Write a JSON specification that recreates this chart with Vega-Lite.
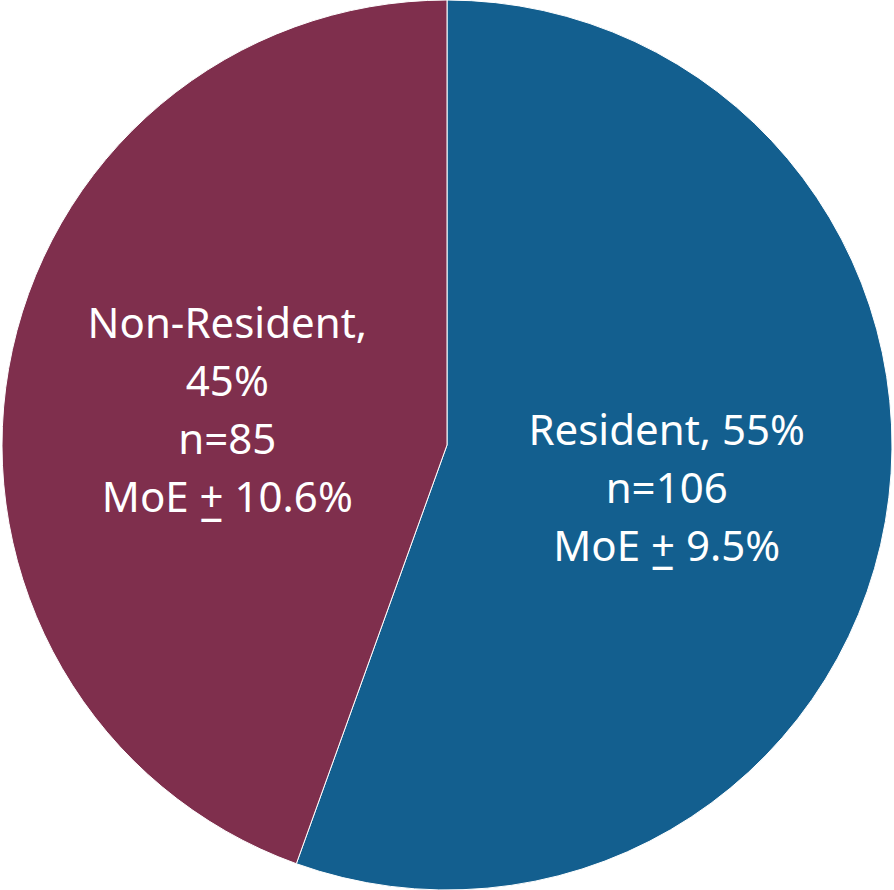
{
  "$schema": "https://vega.github.io/schema/vega-lite/v6.json",
  "width": 894,
  "height": 890,
  "autosize": {"type": "fit", "contains": "padding"},
  "padding": 0,
  "background": "white",
  "config": {"view": {"stroke": null}},
  "data": {
    "values": [
      {"category": "Resident", "n": 106, "label": "Resident, 55%\nn=106\nMoE + 9.5%"},
      {"category": "Non-Resident", "n": 85, "label": "Non-Resident,\n45%\nn=85\nMoE + 10.6%"}
    ]
  },
  "encoding": {
    "theta": {"field": "n", "type": "quantitative", "stack": true},
    "order": {"field": "n", "sort": "descending"}
  },
  "layer": [
    {
      "mark": {"type": "arc", "outerRadius": 445, "stroke": "white", "strokeWidth": 1},
      "encoding": {
        "color": {
          "field": "category",
          "type": "nominal",
          "scale": {"domain": ["Resident", "Non-Resident"], "range": ["#135F8F", "#7F2F4D"]},
          "legend": null
        }
      }
    },
    {
      "mark": {"type": "text", "radius": 223, "dy": -51, "font": "Noto Sans", "fontSize": 42, "lineHeight": 58, "lineBreak": "\n", "fill": "white", "align": "center", "baseline": "middle"},
      "encoding": {
        "text": {"condition": {"test": "datum.category === 'Resident'", "field": "label"}, "value": ""}
      }
    },
    {
      "mark": {"type": "text", "radius": 223, "dy": -82, "font": "Noto Sans", "fontSize": 42, "lineHeight": 58, "lineBreak": "\n", "fill": "white", "align": "center", "baseline": "middle"},
      "encoding": {
        "text": {"condition": {"test": "datum.category === 'Non-Resident'", "field": "label"}, "value": ""}
      }
    },
    {
      "mark": {"type": "text", "radius": 223, "dy": 65, "dx": -4, "font": "Noto Sans", "fontSize": 48, "fontWeight": "bold", "fill": "white", "align": "center", "baseline": "middle"},
      "encoding": {
        "text": {"condition": {"test": "datum.category === 'Resident'", "value": "_"}, "value": ""}
      }
    },
    {
      "mark": {"type": "text", "radius": 223, "dy": 93, "dx": -16, "font": "Noto Sans", "fontSize": 48, "fontWeight": "bold", "fill": "white", "align": "center", "baseline": "middle"},
      "encoding": {
        "text": {"condition": {"test": "datum.category === 'Non-Resident'", "value": "_"}, "value": ""}
      }
    }
  ]
}
